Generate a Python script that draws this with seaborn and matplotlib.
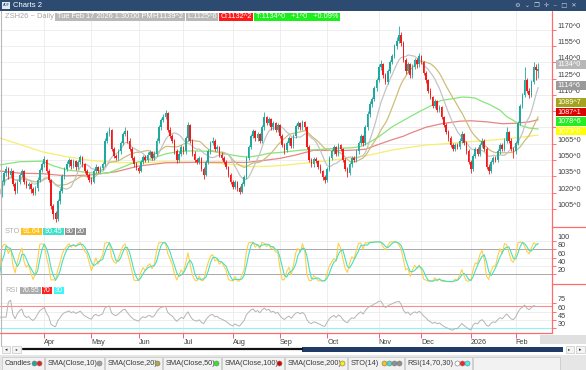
import numpy as np
import pandas as pd
import matplotlib
matplotlib.use("Agg")
import matplotlib.pyplot as plt
from matplotlib.patches import Rectangle
from matplotlib.lines import Line2D
import seaborn as sns

sns.set_theme(style="white")
plt.rcParams['font.family'] = ['Liberation Sans', 'DejaVu Sans']

# ---------------- data ----------------
holidays = ["2025-04-18", "2025-05-26", "2025-06-19", "2025-07-04", "2025-09-01",
            "2025-11-27", "2025-12-25", "2026-01-01", "2026-01-19", "2026-02-16"]
dates = pd.bdate_range("2025-03-04", "2026-02-17")
dates = dates[~dates.isin(pd.to_datetime(holidays))]

opens = [1030, 1019, 1030, 1038, 1042, 1036, 1040, 1028, 1022, 1030, 1036, 1040, 1030, 1026, 1028, 1023, 1020, 1024, 1032, 1041,
         1046, 1050, 1040, 1032, 1008, 1001, 996, 1012, 1022, 1035, 1042, 1046, 1050, 1045, 1049, 1044, 1048, 1053, 1046, 1040, 1036,
         1032, 1030, 1040, 1044, 1040, 1043, 1046, 1068, 1075, 1078, 1060, 1054, 1052, 1058, 1066, 1074, 1077, 1068, 1060, 1052, 1046,
         1043, 1040, 1048, 1053, 1050, 1055, 1057, 1052, 1056, 1068, 1080, 1087, 1090, 1093, 1078, 1072, 1068, 1058, 1050, 1056,
         1062, 1058, 1070, 1082, 1068, 1056, 1050, 1048, 1052, 1042, 1036, 1048, 1058, 1066, 1068, 1060, 1062, 1055, 1052, 1048, 1044, 1036,
         1030, 1025, 1030, 1024, 1021, 1028, 1034, 1052, 1062, 1072, 1077, 1070, 1074, 1068, 1080, 1090, 1084, 1088, 1080, 1084, 1078,
         1082, 1072, 1064, 1059, 1066, 1070, 1063, 1072, 1081, 1084, 1080, 1085, 1080, 1062, 1050, 1046, 1051, 1049, 1044, 1040, 1034,
         1032, 1042, 1052, 1058, 1062, 1056, 1064, 1060, 1050, 1042, 1038, 1046, 1052, 1050, 1058, 1066, 1072, 1066, 1080, 1092, 1102, 1106, 1116,
         1124, 1136, 1138, 1128, 1122, 1132, 1140, 1146, 1155, 1160, 1165, 1158, 1142, 1132, 1138, 1128, 1136, 1142, 1138,
         1146, 1140, 1130, 1124, 1114, 1108, 1100, 1104, 1096, 1099, 1090, 1082, 1076, 1070, 1064, 1060, 1064, 1062, 1068, 1074, 1066, 1058,
         1048, 1042, 1054, 1060, 1056, 1064, 1068, 1060, 1044, 1040, 1048, 1052, 1050, 1058, 1064, 1060, 1068, 1076, 1068, 1060,
         1058, 1066, 1084, 1100, 1110, 1124, 1114, 1110, 1122, 1136, 1132.25]
highs = [1033, 1032, 1040, 1045, 1044, 1043, 1041, 1030, 1032, 1038, 1042, 1041, 1032, 1030, 1029, 1025, 1026, 1034, 1043, 1048,
         1054, 1051, 1042, 1033, 1010, 1003, 1014, 1024, 1037, 1044, 1049, 1052, 1051, 1051, 1050, 1050, 1055, 1054, 1047, 1042, 1038,
         1034, 1042, 1046, 1045, 1045, 1048, 1070, 1077, 1080, 1079, 1062, 1056, 1060, 1068, 1076, 1080, 1078, 1070, 1062, 1054, 1048,
         1045, 1050, 1055, 1055, 1057, 1059, 1058, 1058, 1070, 1082, 1089, 1092, 1096, 1094, 1080, 1074, 1069, 1060, 1058, 1064,
         1063, 1072, 1085, 1083, 1069, 1058, 1052, 1054, 1053, 1044, 1050, 1060, 1068, 1071, 1069, 1064, 1063, 1057, 1054, 1050, 1045, 1038,
         1032, 1032, 1031, 1026, 1030, 1036, 1054, 1064, 1074, 1079, 1078, 1076, 1075, 1082, 1094, 1091, 1090, 1089, 1086, 1085, 1084,
         1083, 1074, 1066, 1068, 1072, 1071, 1074, 1083, 1086, 1085, 1087, 1086, 1081, 1064, 1052, 1053, 1053, 1050, 1046, 1041,
         1036, 1044, 1054, 1060, 1064, 1063, 1066, 1065, 1061, 1052, 1044, 1048, 1054, 1054, 1060, 1068, 1074, 1073, 1082, 1095, 1104, 1108, 1118,
         1126, 1138, 1142, 1139, 1130, 1134, 1142, 1148, 1157, 1163, 1173, 1168, 1160, 1144, 1140, 1139, 1138, 1144, 1144,
         1149, 1147, 1141, 1132, 1125, 1116, 1109, 1106, 1105, 1101, 1100, 1091, 1084, 1078, 1072, 1066, 1066, 1066, 1070, 1077, 1075, 1068,
         1060, 1050, 1056, 1062, 1062, 1066, 1070, 1069, 1062, 1046, 1050, 1054, 1054, 1060, 1066, 1066, 1070, 1080, 1077, 1070,
         1062, 1068, 1086, 1102, 1112, 1136, 1126, 1116, 1124, 1140, 1138, 1139.25]
lows = [1015, 1016, 1027, 1035, 1033, 1034, 1026, 1019, 1020, 1028, 1034, 1028, 1024, 1023, 1020, 1018, 1018, 1022, 1030, 1039,
        1044, 1038, 1030, 1005, 996, 993, 994, 1010, 1020, 1033, 1040, 1044, 1042, 1043, 1041, 1042, 1046, 1044, 1038, 1034, 1030,
        1028, 1029, 1038, 1038, 1038, 1041, 1045, 1066, 1072, 1058, 1052, 1050, 1050, 1056, 1064, 1072, 1066, 1058, 1050, 1044, 1041,
        1038, 1039, 1046, 1048, 1048, 1053, 1050, 1050, 1054, 1066, 1078, 1085, 1088, 1076, 1070, 1066, 1056, 1047, 1048, 1054,
        1056, 1056, 1068, 1066, 1054, 1048, 1046, 1046, 1040, 1033, 1035, 1046, 1056, 1064, 1058, 1058, 1053, 1050, 1046, 1042, 1034, 1028,
        1023, 1023, 1022, 1019, 1020, 1026, 1033, 1050, 1060, 1070, 1068, 1068, 1066, 1066, 1078, 1082, 1082, 1078, 1078, 1076, 1076,
        1070, 1062, 1056, 1057, 1064, 1061, 1061, 1070, 1079, 1078, 1078, 1078, 1060, 1048, 1044, 1044, 1047, 1042, 1038, 1032,
        1029, 1030, 1040, 1050, 1056, 1054, 1054, 1058, 1048, 1040, 1034, 1036, 1044, 1048, 1048, 1056, 1064, 1063, 1064, 1078, 1090, 1099, 1104,
        1114, 1122, 1133, 1126, 1120, 1120, 1130, 1138, 1144, 1152, 1158, 1155, 1140, 1129, 1130, 1126, 1126, 1134, 1135,
        1136, 1138, 1128, 1121, 1112, 1106, 1098, 1098, 1094, 1094, 1088, 1080, 1074, 1068, 1062, 1058, 1058, 1060, 1060, 1066, 1064, 1056,
        1046, 1038, 1040, 1052, 1054, 1054, 1062, 1058, 1042, 1037, 1038, 1046, 1048, 1048, 1056, 1058, 1058, 1066, 1066, 1058,
        1052, 1056, 1064, 1082, 1098, 1108, 1112, 1107, 1108, 1120, 1124, 1125.75]
closes = [1018, 1030, 1038, 1042, 1036, 1040, 1028, 1022, 1030, 1036, 1040, 1030, 1026, 1028, 1023, 1020, 1024, 1032, 1041, 1046,
          1051, 1040, 1032, 1008, 1000, 996, 1012, 1022, 1035, 1042, 1046, 1050, 1045, 1049, 1044, 1048, 1053, 1046, 1040, 1036, 1032,
          1030, 1040, 1044, 1040, 1043, 1046, 1068, 1075, 1078, 1060, 1054, 1052, 1058, 1066, 1074, 1077, 1068, 1060, 1052, 1046, 1043,
          1040, 1048, 1053, 1050, 1055, 1057, 1052, 1056, 1068, 1080, 1087, 1090, 1093, 1078, 1072, 1068, 1058, 1050, 1056, 1062,
          1058, 1070, 1082, 1068, 1056, 1050, 1048, 1052, 1042, 1036, 1048, 1058, 1066, 1068, 1060, 1062, 1055, 1052, 1048, 1044, 1036, 1030,
          1025, 1030, 1024, 1021, 1028, 1034, 1052, 1062, 1072, 1077, 1070, 1074, 1068, 1080, 1090, 1084, 1088, 1080, 1084, 1078, 1082,
          1072, 1064, 1059, 1066, 1070, 1063, 1072, 1081, 1084, 1080, 1085, 1080, 1062, 1050, 1046, 1051, 1049, 1044, 1040, 1034, 1032,
          1042, 1052, 1058, 1062, 1056, 1064, 1060, 1050, 1042, 1038, 1046, 1052, 1050, 1058, 1066, 1072, 1066, 1080, 1092, 1102, 1106, 1116, 1124,
          1136, 1138, 1128, 1122, 1132, 1140, 1146, 1155, 1160, 1165, 1158, 1142, 1132, 1138, 1128, 1136, 1142, 1138, 1146,
          1140, 1130, 1124, 1114, 1108, 1100, 1104, 1096, 1099, 1090, 1082, 1076, 1070, 1064, 1060, 1064, 1062, 1068, 1074, 1066, 1058, 1048,
          1042, 1054, 1060, 1056, 1064, 1068, 1060, 1044, 1040, 1048, 1052, 1050, 1058, 1064, 1060, 1068, 1076, 1068, 1060, 1058,
          1066, 1084, 1100, 1110, 1124, 1114, 1110, 1122, 1136, 1133, 1134]

sma50_idx = [0, 9, 19, 24, 30, 37, 45, 49, 59, 67, 74, 80, 86, 95, 101, 107, 111, 116, 120, 125, 135, 141, 150, 157, 161,
             165, 169, 172, 175, 180, 183, 187, 190, 195, 197, 202, 206, 209, 212, 215, 218, 223, 226, 229, 232, 236, 240]
sma50_val = [1045.5, 1048.5, 1049, 1044.8, 1041, 1039.2, 1037.5, 1038.5, 1047, 1050.8, 1055.7, 1058, 1058.5, 1058, 1055.6,
             1053.5, 1052.8, 1054.3, 1056.3, 1057, 1059.3, 1059.5, 1060.9, 1061.3, 1062.5, 1066.5, 1071.5, 1076, 1080.7, 1086.5,
             1090, 1094.5, 1097.7, 1103, 1105, 1106.5, 1108, 1107.8, 1107, 1104, 1101.5, 1096, 1090, 1086.5, 1082, 1079.5, 1078.6]
sma100_idx = [0, 9, 19, 30, 40, 52, 59, 62, 74, 89, 104, 110, 119, 125, 132, 140, 150, 157, 163, 169, 175, 180, 183, 190,
              197, 205, 210, 217, 224, 230, 236, 240]
sma100_val = [1040, 1038, 1037.5, 1035.5, 1036.2, 1039.3, 1043, 1044.5, 1047.5, 1048, 1048, 1047.8, 1050, 1051.6, 1054.7,
              1059, 1058.8, 1059.1, 1060, 1064.5, 1068.8, 1072, 1074.7, 1080.2, 1083.5, 1085.8, 1086.2, 1085.2, 1083.5, 1083.9,
              1085.2, 1087.1]
sma200_idx = [0, 9, 19, 30, 41, 52, 62, 74, 83, 97, 107, 112, 120, 125, 132, 140, 150, 160, 165, 175, 180, 190, 195, 205,
              209, 220, 230, 240]
sma200_val = [1070.5, 1064.5, 1057.7, 1053.1, 1049.6, 1047.8, 1047.5, 1048.5, 1048.2, 1047, 1045.5, 1044, 1044.3, 1045,
              1046.3, 1048, 1050.5, 1053, 1054.7, 1059.3, 1060.9, 1063.9, 1064.5, 1066.2, 1066.9, 1068.5, 1070.5, 1073]

price_ticks = [1005, 1020, 1035, 1050, 1065, 1080, 1095, 1110, 1125, 1140, 1155, 1170]
hidden_price_labels = [1080, 1095]   # covered by the value boxes in the reference
sto_ticks = [20, 40, 60, 80, 100]
rsi_ticks = [30, 45, 60, 75]
month_names = ["Apr", "May", "Jun", "Jul", "Aug", "Sep", "Oct", "Nov", "Dec", "2026", "Feb"]

# ---------------- indicators ----------------
df = pd.DataFrame({"date": dates, "open": opens, "high": highs, "low": lows, "close": closes})
df["i"] = np.arange(len(df))
c = df["close"]
df["sma10"] = c.rolling(10, min_periods=1).mean()
df["sma20"] = c.rolling(20, min_periods=1).mean()
hh = df["high"].rolling(14, min_periods=1).max()
ll = df["low"].rolling(14, min_periods=1).min()
df["k"] = 100 * (c - ll) / (hh - ll)
df["d"] = df["k"].rolling(3, min_periods=1).mean()
delta = c.diff().fillna(0)
g = delta.clip(lower=0).ewm(alpha=1 / 14, adjust=False).mean()
l_ = (-delta.clip(upper=0)).ewm(alpha=1 / 14, adjust=False).mean()
df["rsi"] = (100 - 100 / (1 + g / l_.replace(0, np.nan))).fillna(50)

month_idx = []
for m in pd.period_range("2025-04", "2026-02", freq="M"):
    month_idx.append(int(df.index[df["date"].dt.to_period("M") == m][0]))

# ---------------- figure ----------------
W, H = 586, 370
fig = plt.figure(figsize=(W / 100, H / 100), dpi=100)
fig.patch.set_facecolor("white")


def fx(x):
    return x / W


def fy(y):
    return 1 - y / H


def add_ax(x0, y0, x1, y1):
    return fig.add_axes([fx(x0), fy(y1), (x1 - x0) / W, (y1 - y0) / H])


AXR = 551.5
ax_p = add_ax(0, 11, AXR, 226.5)
ax_s = add_ax(0, 226.5, AXR, 283.5)
ax_r = add_ax(0, 283.5, AXR, 333)

XL = (0.27, 0.27 + AXR / 2.2448)
PY = (988.9, 1187.2)
TXT = "#404040"
FS = 5.2

for ax in (ax_p, ax_s, ax_r):
    ax.set_facecolor("white")
    for s in ax.spines.values():
        s.set_visible(False)
    ax.set_xticks(month_idx)
    ax.grid(True, color="#ebebeb", lw=0.6)
    ax.set_axisbelow(True)
    ax.yaxis.tick_right()
    ax.tick_params(axis="y", which="both", direction="out", length=3, width=0.6,
                   colors="#ff5a5a", labelcolor=TXT, labelsize=FS, pad=1.5,
                   left=False, labelleft=False, right=True, labelright=True)

# ---- candles ----
up = "#1fa89d"
dn = "#f21b1b"
cols = [up if cl >= op else dn for op, cl in zip(df["open"], df["close"])]
ax_p.vlines(df["i"], df["low"], df["high"], colors=cols, lw=0.6, zorder=3)
body_bottom = np.minimum(df["open"], df["close"])
body_h = np.maximum(np.abs(df["close"] - df["open"]), 0.6)
ax_p.bar(df["i"], body_h, bottom=body_bottom, width=0.72, color=cols, lw=0, zorder=3)

# ---- moving averages ----
sns.lineplot(x=sma200_idx, y=sma200_val, ax=ax_p, color="#f6ee6e", lw=0.9, zorder=2)
sns.lineplot(x=sma100_idx, y=sma100_val, ax=ax_p, color="#e88585", lw=0.9, zorder=2)
sns.lineplot(x=sma50_idx, y=sma50_val, ax=ax_p, color="#86e67a", lw=0.9, zorder=2)
sns.lineplot(data=df, x="i", y="sma20", ax=ax_p, color="#cdbf78", lw=0.9, zorder=2)
sns.lineplot(data=df, x="i", y="sma10", ax=ax_p, color="#c4c4c4", lw=0.9, zorder=2)

# ---- stochastic ----
ax_s.axhline(80, color="#a8a8a8", lw=0.7)
ax_s.axhline(20, color="#a8a8a8", lw=0.7)
sns.lineplot(data=df, x="i", y="k", ax=ax_s, color="#ffcf4a", lw=0.8)
sns.lineplot(data=df, x="i", y="d", ax=ax_s, color="#45e0c0", lw=0.8)

# ---- RSI ----
ax_r.axhline(70, color="#ff8a8a", lw=0.8)
ax_r.axhline(30, color="#8af5f5", lw=0.8)
sns.lineplot(data=df, x="i", y="rsi", ax=ax_r, color="#b4b4b4", lw=0.7)

for ax in (ax_p, ax_s, ax_r):
    ax.set_xlim(*XL)
    ax.set_xlabel("")
    ax.set_ylabel("")
ax_p.set_ylim(*PY)
ax_s.set_ylim(-2.2, 134.8)
ax_r.set_ylim(21.6, 110.4)

ax_p.set_yticks(price_ticks)
ax_p.set_yticklabels(["" if t in hidden_price_labels else f"{t}^0" for t in price_ticks], va="bottom")
ax_s.set_yticks(sto_ticks)
ax_s.set_yticklabels([str(t) for t in sto_ticks], va="bottom")
ax_r.set_yticks(rsi_ticks)
ax_r.set_yticklabels([str(t) for t in rsi_ticks], va="bottom")

for ax in (ax_p, ax_s):
    ax.set_xticks(month_idx)
    ax.tick_params(axis="x", length=0, labelbottom=False)
ax_r.set_xticks(month_idx)
ax_r.set_xticklabels(month_names, ha="left")
ax_r.tick_params(axis="x", direction="out", length=3.5, width=0.7, colors="#ff5a5a",
                 labelcolor=TXT, labelsize=FS, pad=0.5, bottom=True, labelbottom=True)


# ---------------- decorations in pixel space ----------------
def rect(x0, y0, x1, y1, fc, ec="none", lw=0.0, z=5):
    fig.add_artist(Rectangle((fx(x0), fy(y1)), (x1 - x0) / W, (y1 - y0) / H,
                             transform=fig.transFigure, fc=fc, ec=ec, lw=lw, zorder=z))


def line(x0, y0, x1, y1, color, lw=0.8, z=6):
    fig.add_artist(Line2D([fx(x0), fx(x1)], [fy(y0), fy(y1)], transform=fig.transFigure,
                          color=color, lw=lw, zorder=z))


def txt(x, y, s, color=TXT, size=FS, ha="left", va="center", z=7, **kw):
    fig.text(fx(x), fy(y), s, color=color, fontsize=size, ha=ha, va=va, zorder=z, **kw)


def dot(x, y, fc, ec="#777777", ms=3.6):
    fig.add_artist(Line2D([fx(x)], [fy(y)], transform=fig.transFigure, marker="o", ms=ms,
                          mfc=fc, mec=ec, mew=0.4, ls="none", zorder=8))


# title bar
rect(0, 0, W, 10.5, "#2d4a70", z=4)
rect(2, 2, 10, 8.5, "#dfe8f3", z=5)
txt(3, 5.3, "ADF", color="#2d4a70", size=2.6)
txt(13, 5.4, "Charts 2", color="white", size=5.5)
txt(515, 5.4, "\u2699  \u2304  \u2750  \u271b  \u2012  \u25a1  \u2715", color="#c9d3df", size=4.6,
    family=["DejaVu Sans"])

# left border and axis lines
line(0.6, 10.5, 0.6, 346, "#b9b9b9", lw=0.8)
line(AXR, 11, AXR, 333, "#ff6a6a", lw=0.9)
line(0, 333, AXR, 333, "#ff6a6a", lw=0.9)
line(AXR, 226.5, W, 226.5, "#ff6a6a", lw=0.9)
line(AXR, 283.5, W, 283.5, "#ff6a6a", lw=0.9)
rect(540, 334.5, W, 343.5, "#e0e0e0", z=4)

# info row
txt(5, 16.8, "ZSH26 ~ Daily", color="#a6a6a6", size=5.4)
info_boxes = [(55.5, 149.6, "#b9b9b9", "Tue Feb 17 2026 1:30:00 PM"),
              (150.4, 184.8, "#b9b9b9", "H:1139^2"),
              (185.6, 218.2, "#b9b9b9", "L:1125^6"),
              (218.8, 253.4, "#ff1a1a", "O:1132^2"),
              (254.0, 339.5, "#19f019", "T:1134^0   +1^0   +0.09%")]
for x0, x1, fc, s in info_boxes:
    rect(x0, 13, x1, 20.6, fc)
    txt(x0 + 1.5, 16.9, s, color="white", size=5.3)

# right-axis value boxes (stacked upward to avoid overlap)
vals = [(1073.0, "#ffff00", "1073^0"), (1078.6, "#22ee22", "1078^6"), (1087.1, "#dd0000", "1087^1"),
        (1089.7, "#a3a31c", "1089^7"), (1114.6, "#9a9a9a", "1114^6"), (1134.0, "#b7b7b7", "1134^0")]
bh = 8.6
prev = None
for v, fc, s in vals:
    yc = 11 + (PY[1] - v) / (PY[1] - PY[0]) * 215.5 - 4.2
    if prev is not None and yc > prev - 9.4:
        yc = prev - 9.4
    prev = yc
    rect(555.5, yc - bh / 2, W, yc + bh / 2, fc, z=6)
    txt(557, yc + 0.2, s, color="white", size=FS, z=7)

# panel labels
txt(5, 231.8, "STO", color="#b0b0b0", size=5.4)
for x0, x1, fc, s in [(21, 41.5, "#ffc21a", "91.64"), (43, 63.5, "#42e0cc", "90.45"),
                      (65, 74.6, "#8f8f8f", "80"), (76, 86, "#8f8f8f", "20")]:
    rect(x0, 228.3, x1, 235.4, fc)
    txt((x0 + x1) / 2, 231.9, s, color="white", size=5.0, ha="center")
txt(5, 290.2, "RSI", color="#b0b0b0", size=5.4)
for x0, x1, fc, s in [(20, 40.5, "#ababab", "70.95"), (42, 52, "#ff2020", "70"), (53.5, 64, "#3ff5f5", "30")]:
    rect(x0, 286.6, x1, 293.8, fc)
    txt((x0 + x1) / 2, 290.3, s, color="white", size=5.0, ha="center")

# scrollbar
rect(1.5, 346, 10, 352.5, "#f4f4f4", ec="#c8c8c8", lw=0.5)
rect(12, 346, 21, 352.5, "#f4f4f4", ec="#c8c8c8", lw=0.5)
txt(5.8, 349.2, "\u25c2", color="#333333", size=3.5, ha="center", family=["DejaVu Sans"])
txt(16.5, 349.2, "\u25c2", color="#333333", size=3.2, ha="center", family=["DejaVu Sans"])
line(23, 349.3, 302, 349.3, "#111111", lw=1.6)
rect(302, 346.8, 563, 351.8, "#1f3b66")
rect(565.5, 346, 573.5, 352.5, "#f4f4f4", ec="#c8c8c8", lw=0.5)
rect(576, 346, 584.5, 352.5, "#f4f4f4", ec="#c8c8c8", lw=0.5)
txt(569.5, 349.2, "\u25b8", color="#333333", size=3.2, ha="center", family=["DejaVu Sans"])
txt(580.2, 349.2, "\u25b8", color="#333333", size=3.5, ha="center", family=["DejaVu Sans"])

# legend bar
rect(0, 355, W, H, "#e6e6e6", z=4)
legend_items = [
    (2, 44, "Candles", [up, dn]),
    (45, 104, "SMA(Close,10)", ["#a0a0a0"]),
    (105, 162, "SMA(Close,20)", ["#b5a64a"]),
    (163, 221, "SMA(Close,50)", ["#22ee22"]),
    (222, 284, "SMA(Close,100)", ["#dd0000"]),
    (285, 347, "SMA(Close,200)", ["#ffee00"]),
    (348, 404, "STO(14)", ["#ffc21a", "#42e0cc", "#8f8f8f", "#8f8f8f"]),
    (405, 472, "RSI(14,70,30)", ["#ffffff", "#ff2020", "#3ff5f5"]),
]
for x0, x1, s, dots in legend_items:
    rect(x0, 357, x1, 369.5, "#f2f2f2", ec="#c4c4c4", lw=0.5, z=5)
    txt(x0 + 2.5, 363.3, s, color="#383838", size=5.3)
    n = len(dots)
    for k_, col in enumerate(dots):
        dot(x1 - 5 - (n - 1 - k_) * 5, 363.3, col)
rect(473, 357, 560, 369.5, "#f2f2f2", ec="#c4c4c4", lw=0.5, z=5)

fig.savefig("out.png", dpi=100, facecolor="white")
